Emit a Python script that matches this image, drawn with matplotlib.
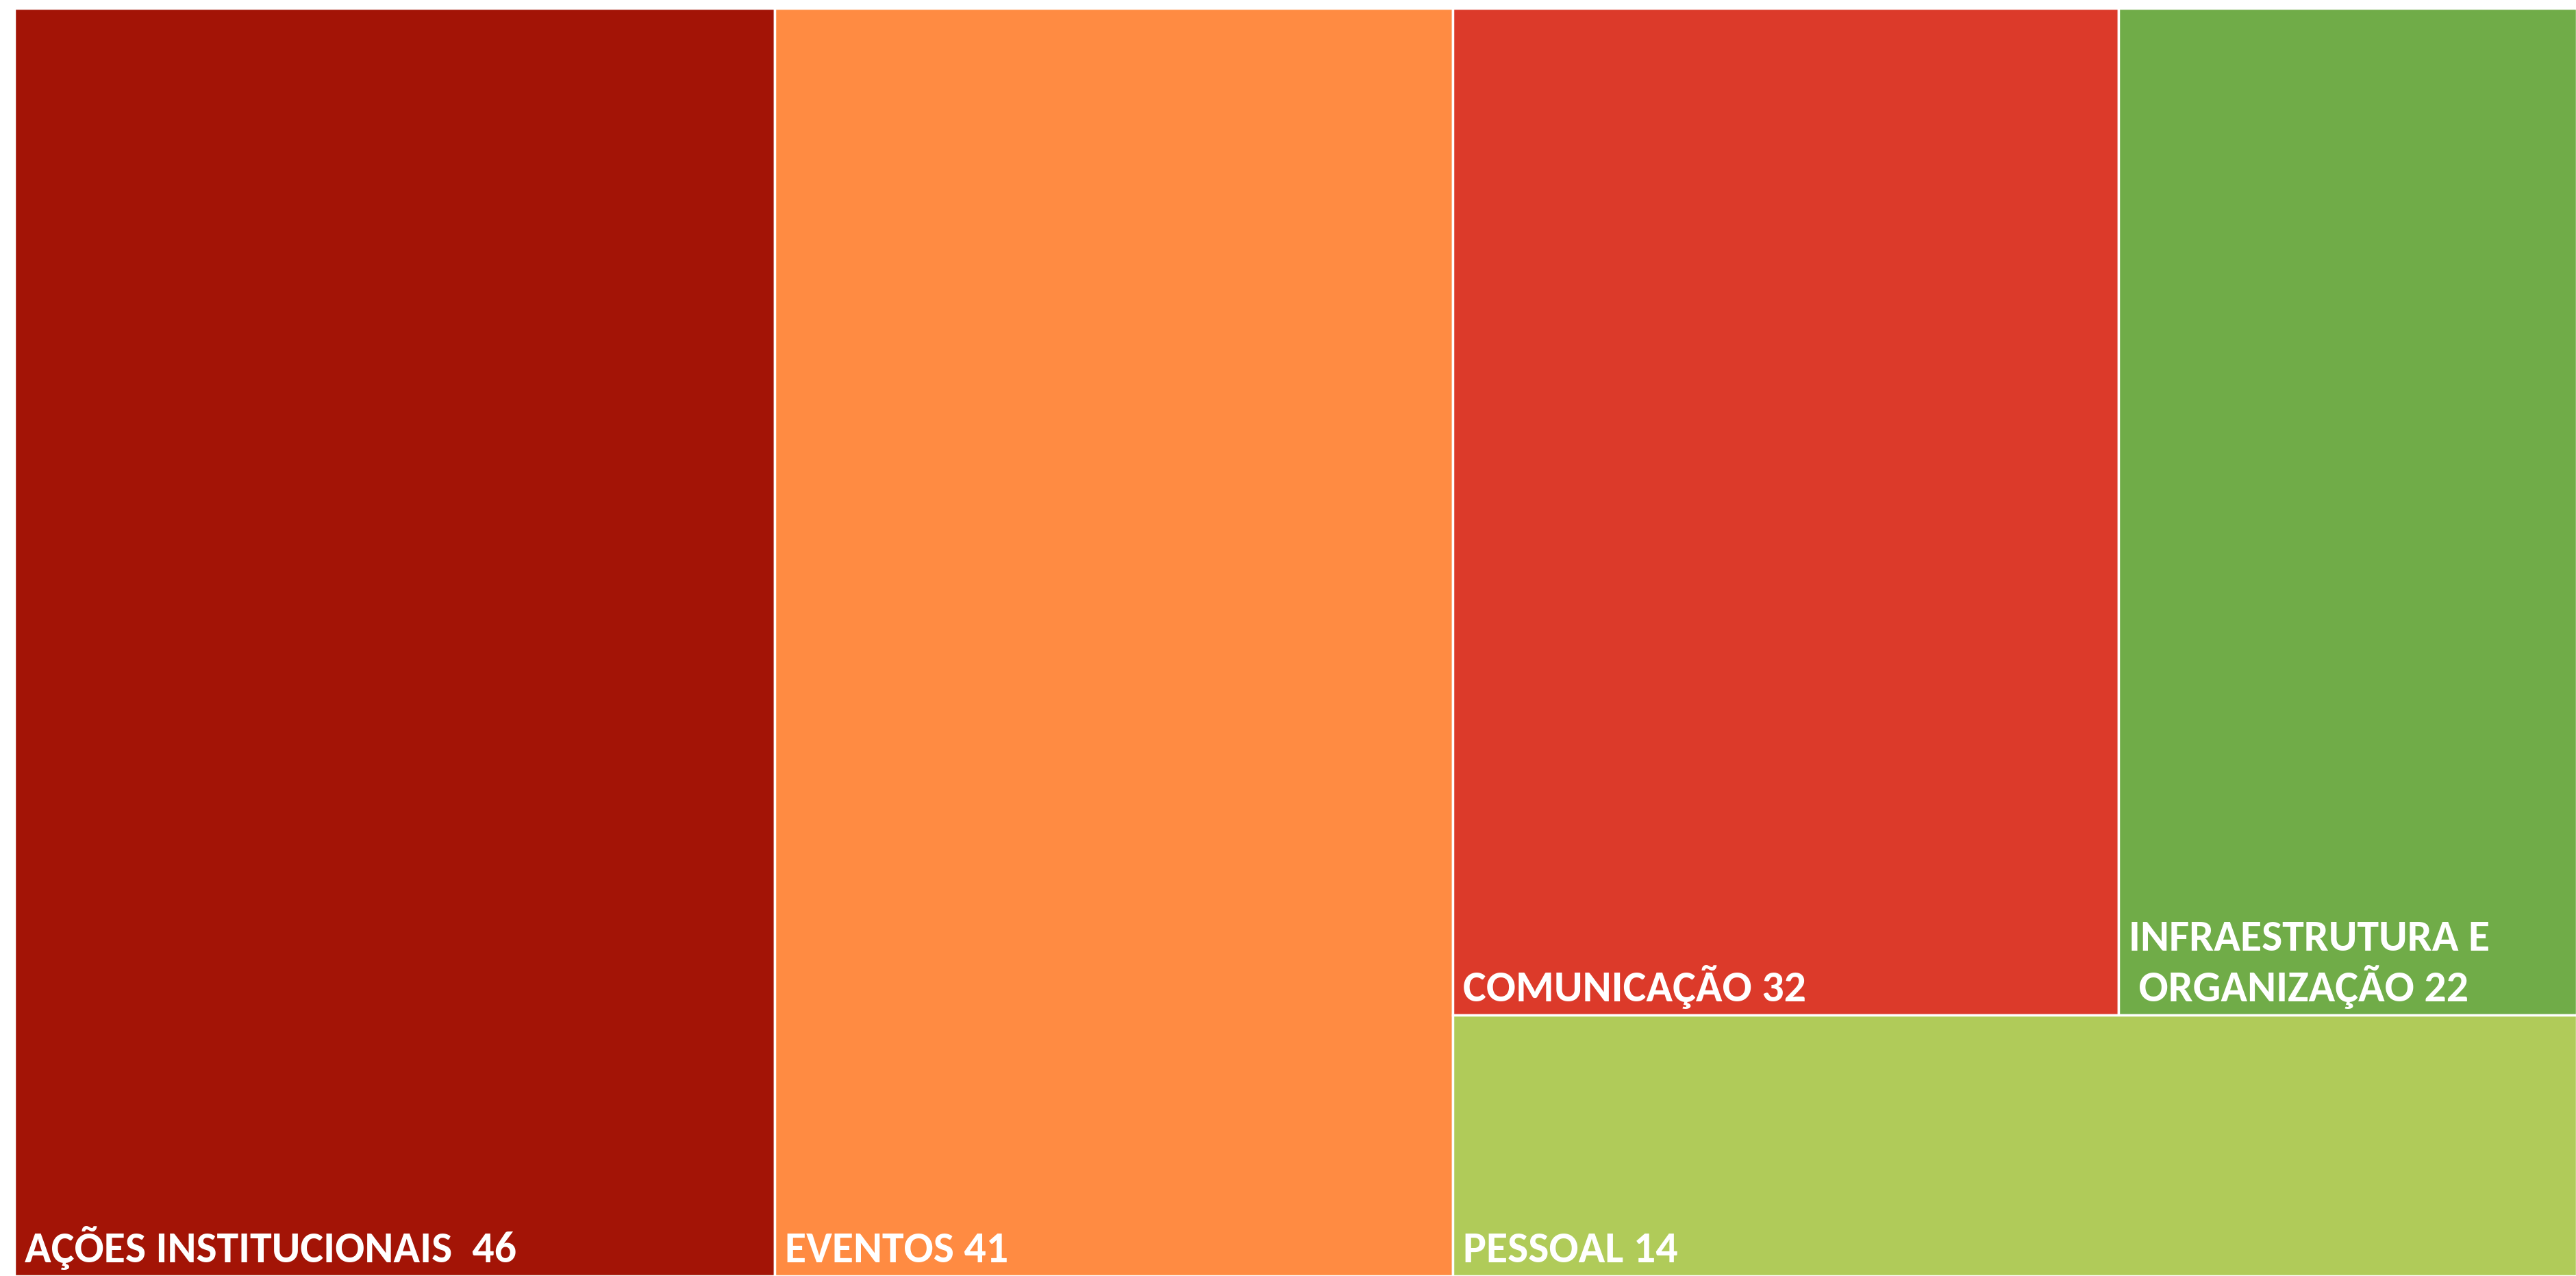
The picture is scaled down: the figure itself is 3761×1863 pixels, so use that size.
import matplotlib
matplotlib.use("Agg")
import matplotlib.pyplot as plt
from matplotlib.patches import Rectangle
from matplotlib.transforms import offset_copy

# Treemap data
labels = ["AÇÕES INSTITUCIONAIS  46", "EVENTOS 41", "COMUNICAÇÃO 32",
          "INFRAESTRUTURA E\n ORGANIZAÇÃO 22", "PESSOAL 14"]
values = [46, 41, 32, 22, 14]
colors = ["#A31406", "#FF8B42", "#DC3A2A", "#70AC48", "#B0CB59"]

plt.rcParams['font.family'] = ['Carlito', 'DejaVu Sans']

fig = plt.figure(figsize=(37.62, 18.63), dpi=100)
ax = fig.add_axes([21 / 3762, 0, 1 - 21 / 3762, 1 - 12 / 1863])
total = sum(values)
ax.set_xlim(0, total)
ax.set_ylim(0, 1)
ax.axis("off")

# layout: two full-height columns, then a column split into top row + bottom
rects = []
x = 0
for v in values[:2]:
    rects.append((x, 0, v, 1))
    x += v
rest_w = total - x
top_sum = values[2] + values[3]
top_h = top_sum / (top_sum + values[4])
bottom_h = 1 - top_h
cx = x
for v in values[2:4]:
    w = v / top_sum * rest_w
    rects.append((cx, bottom_h, w, top_h))
    cx += w
rects.append((x, 0, rest_w, bottom_h))

for (rx, ry, rw, rh), lab, col in zip(rects, labels, colors):
    ax.add_patch(Rectangle((rx, ry), rw, rh, facecolor=col,
                           edgecolor="white", linewidth=2.5))
    tr = offset_copy(ax.transData, fig=fig, x=15, y=20, units="dots")
    ax.text(rx, ry, lab, transform=tr, color="white", fontsize=46,
            fontweight="bold", ha="left", va="baseline",
            multialignment="left", linespacing=1.2)

fig.savefig("out.png", dpi=100)
plt.close()
